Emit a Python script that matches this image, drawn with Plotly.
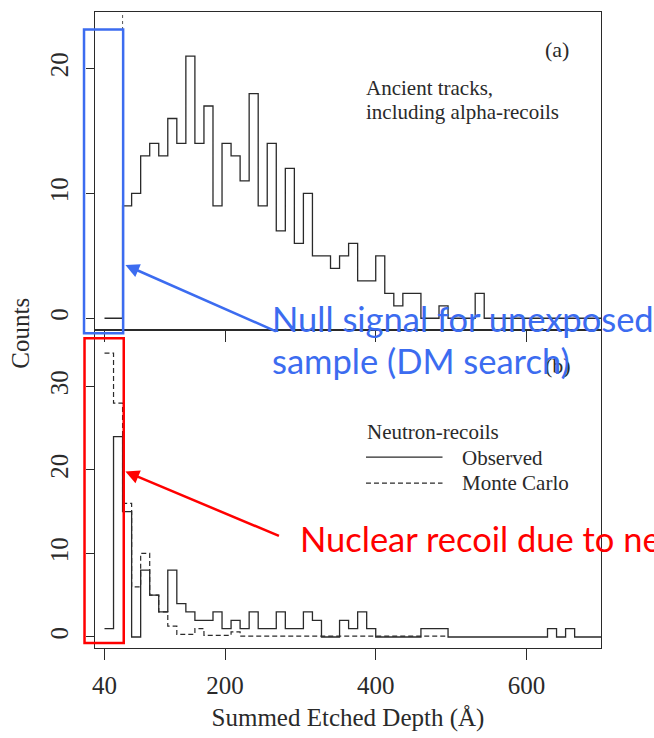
import plotly.graph_objects as go

# ---------------- data ----------------
BIN_START = 40      # first bin edge (Å)
BIN_WIDTH = 12      # bin width (Å)

# (a) Ancient tracks, including alpha-recoils  (counts per bin, starting at 40 Å)
ancient_counts = [0, 0, 9, 10, 13, 14, 13, 16, 14, 21, 14, 17, 9, 14, 13, 11, 18, 9, 14, 7,
                  12, 6, 10, 5, 5, 4, 5, 6, 3, 3, 5, 2, 1, 2, 2, 0, 0, 1, 0, 0,
                  0, 2, 0, 0, 0, 0, 0, 0, 0, 0, 0, 0, 0, 0, 0]

# (b) Neutron-recoils, observed
observed_counts = [1, 24, 15, 0, 8, 5, 3, 8, 4, 3, 2, 2, 3, 1, 2, 1, 3, 1, 1, 3,
                   1, 1, 3, 2, 0, 0, 2, 1, 3, 1, 0, 0, 0, 0, 0, 1, 1, 1, 0, 0,
                   0, 0, 0, 0, 0, 0, 0, 0, 0, 1, 0, 1, 0, 0, 0]

# (b) Neutron-recoils, Monte Carlo
mc_counts = [34, 28, 16, 6, 10, 5, 3, 1.3, 0.3, 0.3, 1, 0.2, 0.2, 0.2, 0.6, 0.1, 0.1, 0.1, 0.1, 0.1,
             0.1, 0.1, 0.1, 0.1, 0.1, 0.1, 0.1, 0.1, 0.1, 0.1, 0.1, 0.1, 0.1, 0.1, 0.1, 0.1, 0.1, 0.1]

x_tickvals = [40, 200, 400, 600]
top_tickvals = [0, 10, 20]
bot_tickvals = [0, 10, 20, 30]

# ---------------- geometry ----------------
W, H = 654, 738
L, R, T, B = 94.5, 52.5, 11.7, 89.7
PW, PH = W - L - R, H - T - B


def px(x):
    return (x - L) / PW


def py(y):
    return (H - B - y) / PH


def steps(counts):
    edges = [BIN_START + BIN_WIDTH * i for i in range(len(counts) + 1)]
    return edges, list(counts) + [counts[-1]]


SERIF = "Liberation Serif, Times New Roman, serif"
INK = "#2a2a2a"
BLUE = "#3c6cf0"
RED = "#ff0000"

fig = go.Figure()

xa, ya = steps(ancient_counts)
fig.add_trace(go.Scatter(x=xa, y=ya, mode="lines", line=dict(shape="hv", color=INK, width=1.3),
                         xaxis="x2", yaxis="y2", showlegend=False, hoverinfo="skip"))

xo, yo = steps(observed_counts)
fig.add_trace(go.Scatter(x=xo, y=yo, mode="lines", line=dict(shape="hv", color=INK, width=1.3),
                         xaxis="x", yaxis="y", showlegend=False, hoverinfo="skip"))

xm, ym = steps(mc_counts)
fig.add_trace(go.Scatter(x=xm, y=ym, mode="lines",
                         line=dict(shape="hv", color=INK, width=1.2, dash="5px,3px"),
                         xaxis="x", yaxis="y", showlegend=False, hoverinfo="skip"))

axis_common = dict(showgrid=False, zeroline=False, showline=True, linecolor=INK, linewidth=1.2,
                   mirror=True, tickcolor=INK, tickwidth=1.2,
                   tickfont=dict(family=SERIF, size=25, color=INK))

fig.update_layout(
    width=W, height=H,
    margin=dict(l=L, r=R, t=T, b=B, pad=0),
    paper_bgcolor="white", plot_bgcolor="white",
    xaxis=dict(axis_common, domain=[0, 1], anchor="y", range=[27.4, 699],
               tickvals=x_tickvals, ticktext=[str(v) for v in x_tickvals],
               ticks="outside", ticklen=11, ticklabelstandoff=4,
               title=dict(text="Summed Etched Depth (Å)", font=dict(family=SERIF, size=25, color=INK),
                          standoff=10)),
    yaxis=dict(axis_common, domain=[0, py(330)], anchor="x", range=[-1.32, 36.76],
               tickvals=bot_tickvals, ticks="outside", ticklen=8, tickangle=-90,
               ticklabelstandoff=8),
    xaxis2=dict(axis_common, domain=[0, 1], anchor="y2", matches="x", range=[27.4, 699],
                tickvals=x_tickvals, ticks="outside", ticklen=11, showticklabels=False),
    yaxis2=dict(axis_common, domain=[py(330), 1], anchor="x2", range=[-0.94, 24.53],
                tickvals=top_tickvals, ticks="outside", ticklen=8, tickangle=-90,
                ticklabelstandoff=8),
)

# dotted threshold line in panel (a)
fig.add_shape(type="line", xref="x2", yref="paper", x0=64, x1=64, y0=py(330), y1=1,
              line=dict(color="#555", width=1, dash="dot"))

# legend lines in panel (b)
fig.add_shape(type="line", xref="paper", yref="paper", x0=px(366), x1=px(442.7), y0=py(457.3), y1=py(457.3),
              line=dict(color=INK, width=1.2))
fig.add_shape(type="line", xref="paper", yref="paper", x0=px(366), x1=px(442.7), y0=py(483.3), y1=py(483.3),
              line=dict(color=INK, width=1.2, dash="5px,3px"))


def text(s, x, y, size, color=INK, family=SERIF, xanchor="left", angle=0):
    fig.add_annotation(text=s, xref="paper", yref="paper", x=px(x), y=py(y), showarrow=False,
                       xanchor=xanchor, yanchor="middle", textangle=angle,
                       font=dict(family=family, size=size, color=color))


text("(a)", 543, 49.5, 22)
text("Ancient tracks,", 364, 88, 21)
text("including alpha-recoils", 364, 112, 21)
text("(b)", 543, 366, 22)
text("Neutron-recoils", 365, 432, 21)
text("Observed", 460, 458, 21)
text("Monte Carlo", 460.5, 483, 21)
text("Counts", 20, 333, 25, xanchor="center", angle=-90)

# highlight boxes
fig.add_shape(type="rect", xref="paper", yref="paper", x0=px(83.5), x1=px(122.7), y0=py(333.3), y1=py(29.3),
              line=dict(color=BLUE, width=2.5))
fig.add_shape(type="rect", xref="paper", yref="paper", x0=px(84), x1=px(123.3), y0=py(643.3), y1=py(338.3),
              line=dict(color=RED, width=2.5))

# arrows
fig.add_annotation(xref="paper", yref="paper", x=px(125), y=py(265), ax=152, ay=67,
                   showarrow=True, arrowhead=2, arrowsize=1.1, arrowwidth=2.5, arrowcolor=BLUE, text="")
fig.add_annotation(xref="paper", yref="paper", x=px(125), y=py(471.7), ax=155, ay=65,
                   showarrow=True, arrowhead=2, arrowsize=1.1, arrowwidth=2.5, arrowcolor=RED, text="")

SANS = "Lato, Noto Sans, sans-serif"
text("Null signal for unexposed", 269.5, 318.5, 34.5, color=BLUE, family=SANS)
text("sample (DM search)", 269.5, 360.5, 34.5, color=BLUE, family=SANS)
text("Nuclear recoil due to neutrons", 297.5, 538.5, 34.5, color=RED, family=SANS)

fig.write_html("out.html")
